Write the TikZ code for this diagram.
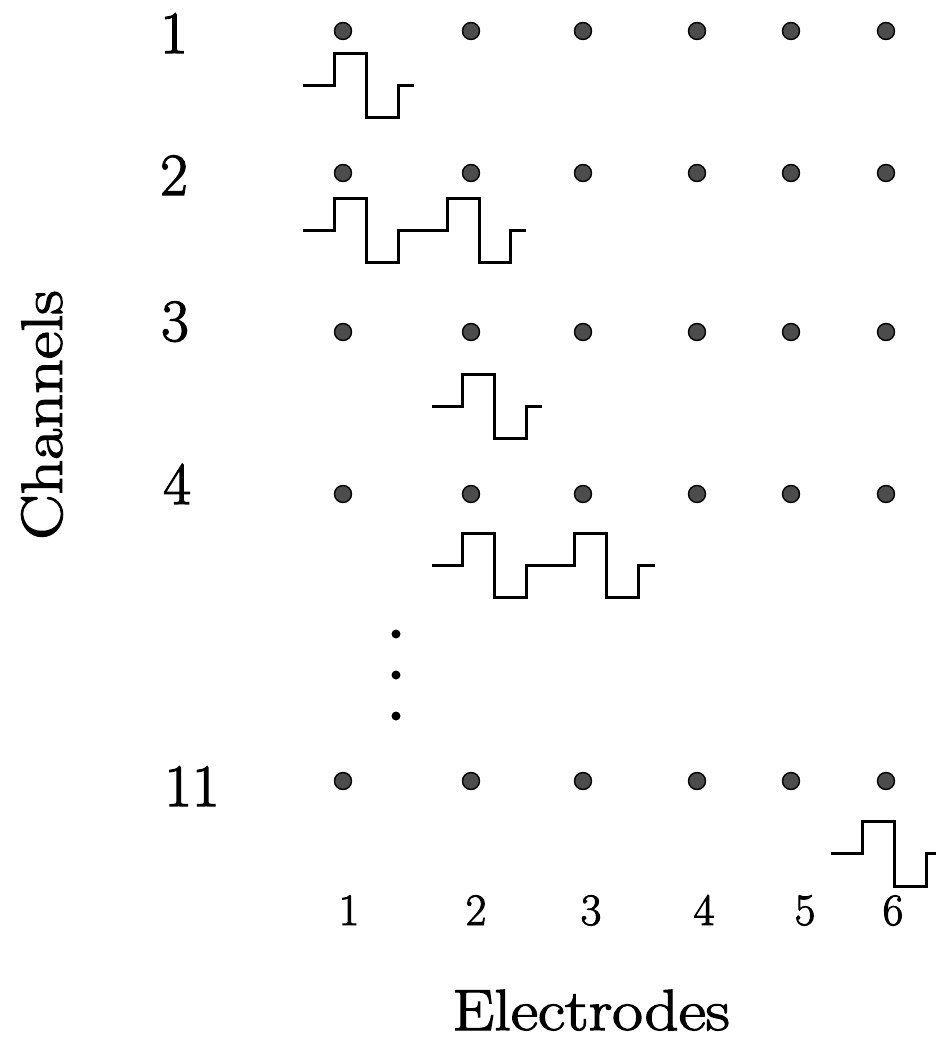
\documentclass[tikz,border=0pt]{standalone}
\usepackage{graphicx}
\usepackage{fontspec}
\newfontfamily\heavyrm{Latin Modern Roman}[FakeBold=2]
\begin{document}
\begin{tikzpicture}[x=1pt,y=-1pt,
  electrode/.style={circle,draw=black,fill=black!70,line width=1.4pt,minimum size=17pt,inner sep=0pt},
  vdot/.style={circle,fill=black,minimum size=9pt,inner sep=0pt},
  wave/.style={line width=3pt,line join=miter},
  rowlab/.style={anchor=base,inner sep=0pt,font=\heavyrm\fontsize{60}{60}\selectfont},
  collab/.style={anchor=base,inner sep=0pt,font=\heavyrm\fontsize{45}{45}\selectfont},
  axlab/.style={inner sep=0pt,font=\heavyrm\fontsize{58}{58}\selectfont}]
\useasboundingbox (0,0) rectangle (935,1042);
% electrode dots
\foreach \r/\y in {1/31,2/173,3/332,4/494,11/781}{
  \foreach \c/\x in {1/343,2/471,3/583,4/697,5/791,6/886}{
    \node[electrode] (e\r-\c) at (\x,\y) {};
  }
}
% vertical ellipsis
\node[vdot] (v1) at (396,634) {};
\node[vdot] (v2) at (396,675) {};
\node[vdot] (v3) at (396,716) {};
% row labels
\node[rowlab] (r1) at (174,53) {1};
\node[rowlab] (r2) at (174,195) {2};
\node[rowlab] (r3) at (175,341) {3};
\node[rowlab] (r4) at (177,504) {4};
\node[rowlab] (r11) at (192,806) {11};
% column labels
\foreach \c/\x in {1/349,2/476,3/591,4/704,5/805,6/893}{
  \node[collab] (c\c) at (\x,925) {\c};
}
% axis labels
\node[axlab,anchor=base] (xl) at (591,1030) {\scalebox{1.15}[1]{Electrodes}};
\node[axlab,rotate=90] (yl) at (42,415) {\scalebox{1.17}[1]{Channels}};
% waveforms
\draw[wave] (303,85)--(334,85)--(334,53)--(366,53)--(366,117)--(398,117)--(398,85)--(414,85);
\draw[wave] (303,230)--(334,230)--(334,198)--(366,198)--(366,262)--(398,262)--(398,230)--(447,230)--(447,198)--(479,198)--(479,262)--(510,262)--(510,230)--(526,230);
\draw[wave] (432,406)--(462,406)--(462,374)--(494,374)--(494,438)--(526,438)--(526,406)--(542,406);
\draw[wave] (432,565)--(462,565)--(462,533)--(494,533)--(494,597)--(526,597)--(526,565)--(574,565)--(574,533)--(606,533)--(606,597)--(638,597)--(638,565)--(655,565);
\draw[wave] (831,853)--(862,853)--(862,821)--(894,821)--(894,886)--(926,886)--(926,853)--(936,853);
\end{tikzpicture}
\end{document}
